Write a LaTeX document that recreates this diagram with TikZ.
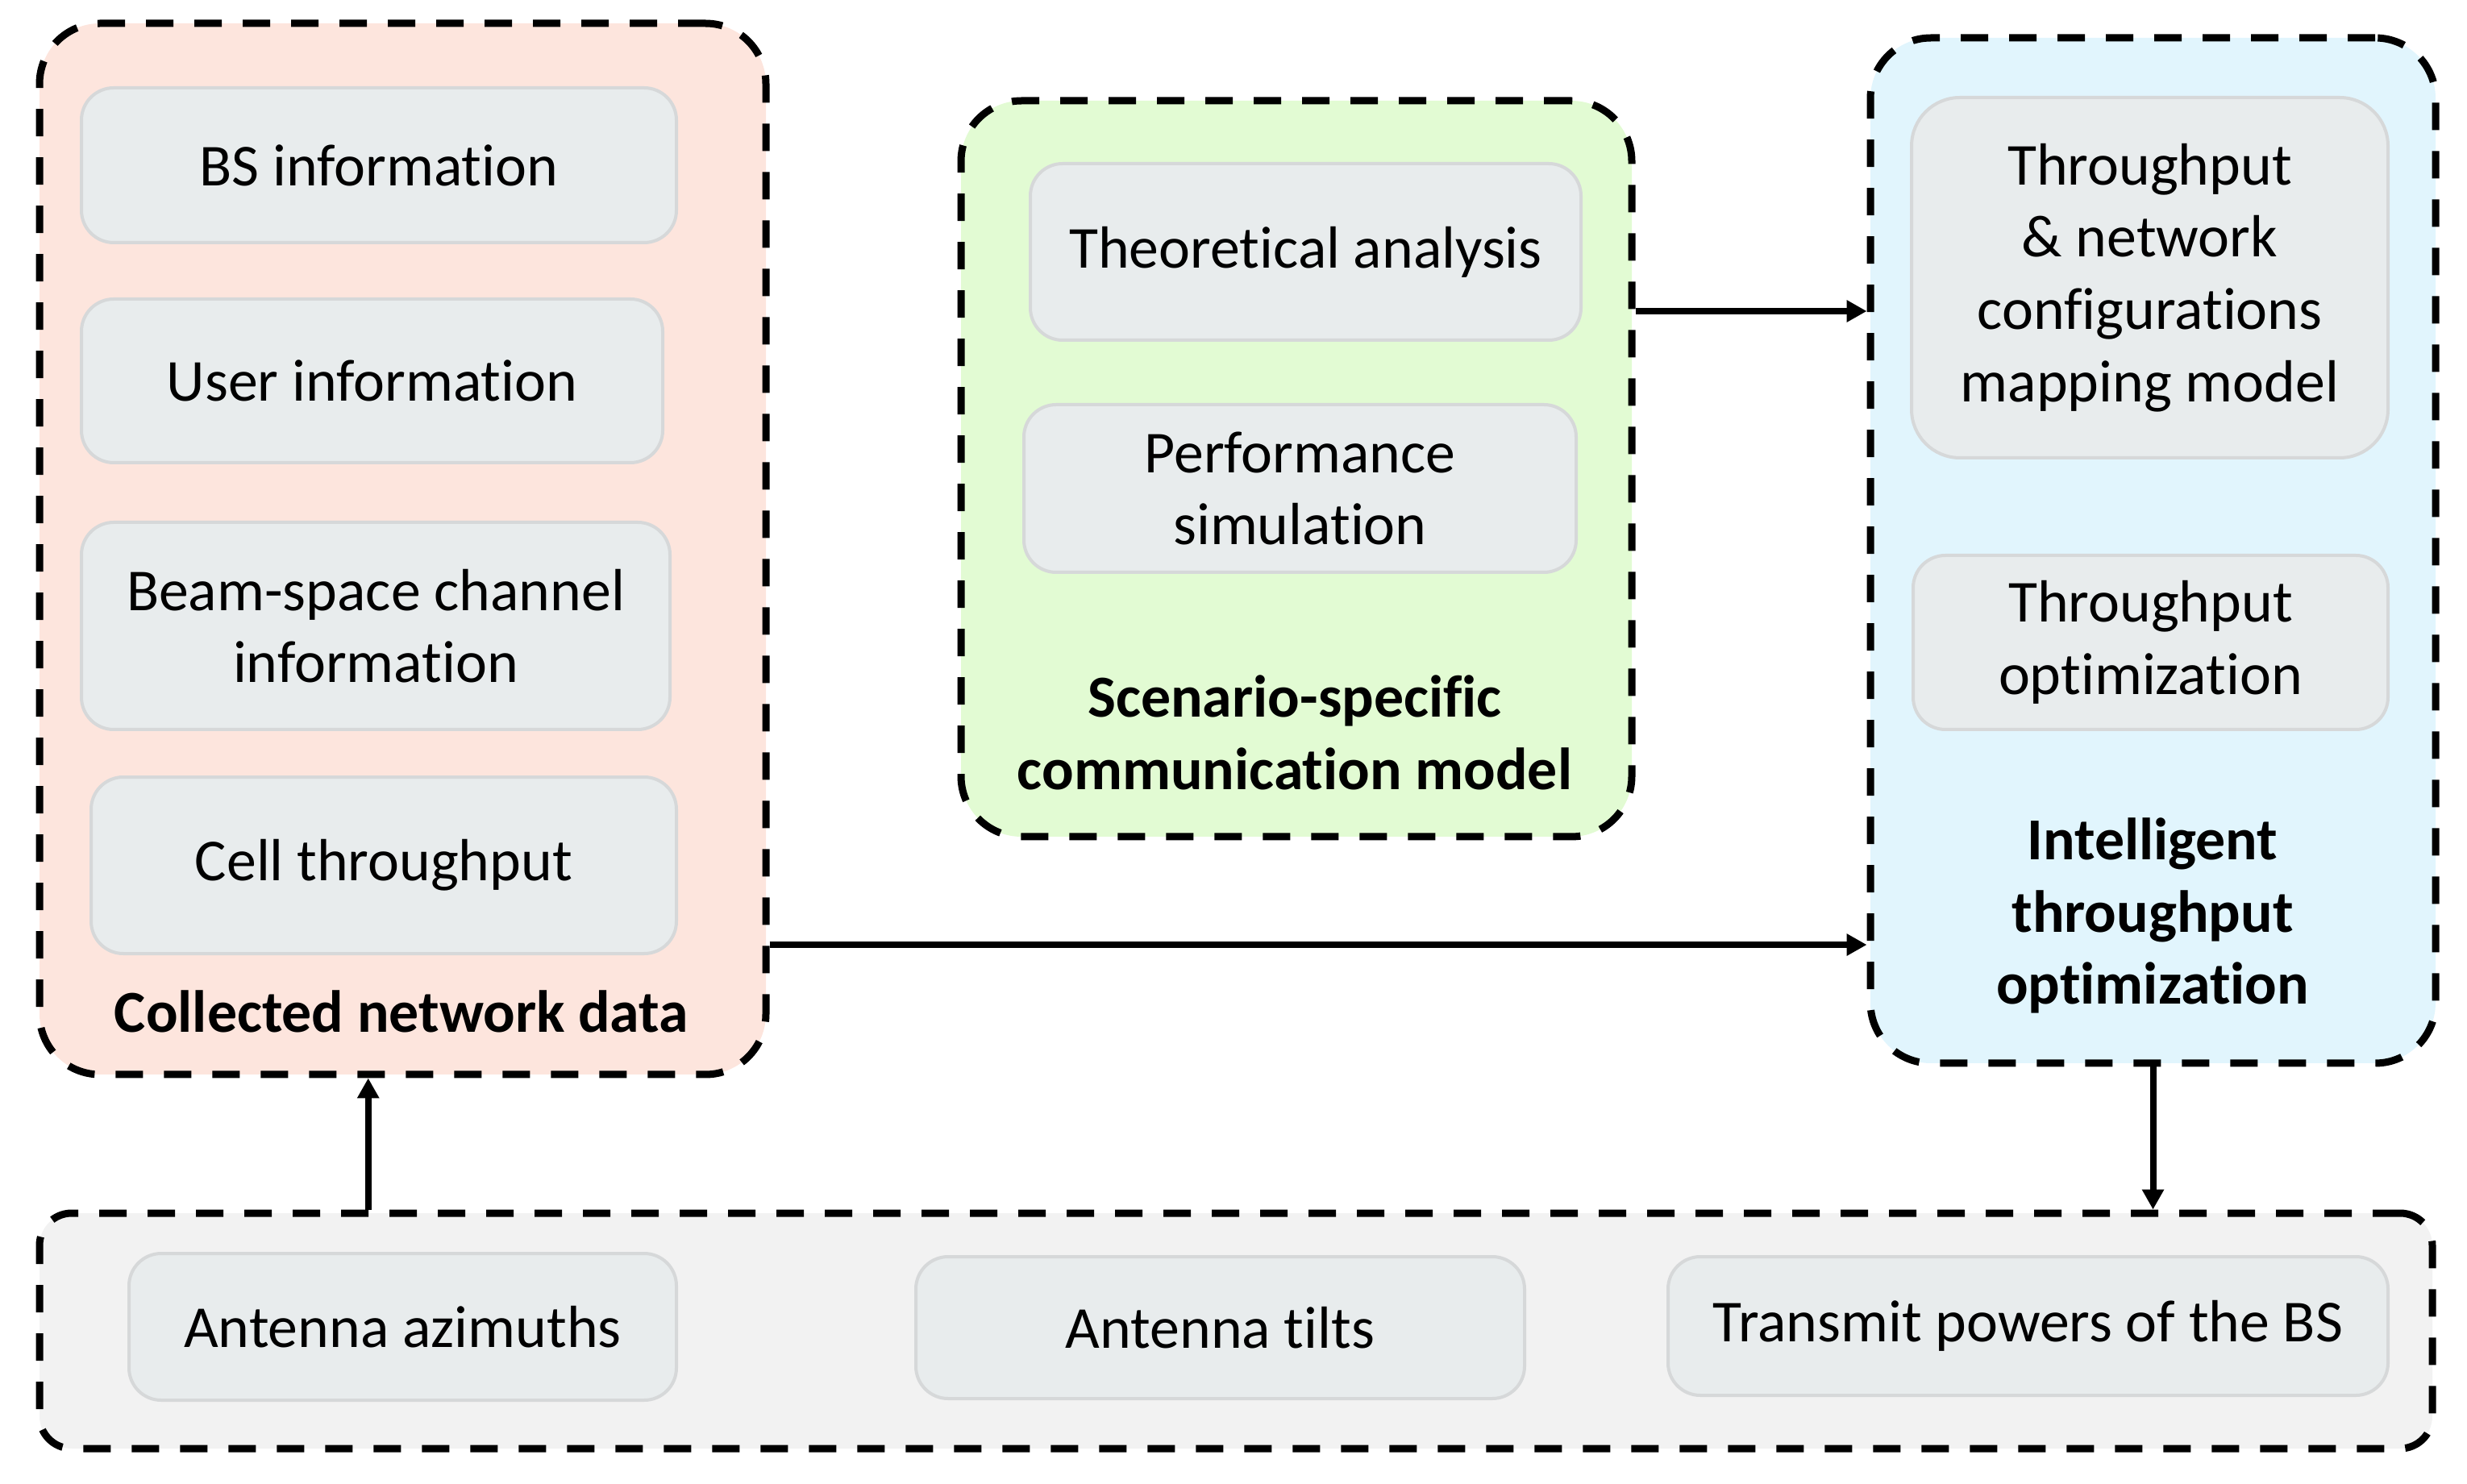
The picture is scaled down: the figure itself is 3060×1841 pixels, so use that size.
\documentclass[tikz,border=0pt]{standalone}
\usepackage{fontspec}
\setmainfont{Carlito}[Ligatures=NoCommon]
\usetikzlibrary{arrows.meta,calc}
\definecolor{redfill}{HTML}{FDE5DD}
\definecolor{greenfill}{HTML}{E2FBD3}
\definecolor{bluefill}{HTML}{E1F5FD}
\definecolor{botfill}{HTML}{F2F2F2}
\definecolor{innerfill}{HTML}{E8ECED}
\definecolor{innerdraw}{HTML}{D6D8D9}
\tikzset{
  outer/.style={draw=black, line width=0.9mm, dash pattern=on 3.4mm off 2.6mm, rounded corners=7.5mm, inner sep=0pt},
  inbox/.style={draw=innerdraw, fill=innerfill, line width=0.4mm, rounded corners=4mm, inner sep=0pt, align=center, font=\fontsize{21}{25.5}\selectfont},
  lbl/.style={align=center, inner sep=0pt, font=\fontsize{21}{25.5}\selectfont\bfseries},
  arr/.style={draw=black, line width=0.8mm, -{Triangle[length=2.5mm,width=2.6mm]}}
}
\begin{document}
\begin{tikzpicture}[x=0.1mm,y=-0.1mm]
\useasboundingbox (0,0) rectangle (3060,1841);
% outer containers
\node[outer, fill=redfill, minimum width=90.1mm, minimum height=130.4mm] (red) at (499.5,681) {};
\node[outer, fill=greenfill, minimum width=83.2mm, minimum height=91.3mm] (green) at (1608,581.5) {};
\node[outer, fill=bluefill, minimum width=70.1mm, minimum height=127.2mm] (blue) at (2670.5,683) {};
\node[outer, fill=botfill, rounded corners=4mm, minimum width=296.8mm, minimum height=29.2mm] (bottom) at (1533,1651) {};
% red contents
\node[inbox, minimum width=73.8mm, minimum height=19.2mm] (bs) at (470,205) {BS information};
\node[inbox, minimum width=72.1mm, minimum height=20.3mm] (user) at (461.5,472.5) {User information};
\node[inbox, minimum width=73.0mm, minimum height=25.7mm] (beam) at (466,776.5) {Beam-space channel\\information};
\node[inbox, minimum width=72.6mm, minimum height=21.9mm] (cell) at (476,1073.5) {Cell throughput};
\node[lbl] (redlbl) at (498,1255) {Collected network data};
% green contents
\node[inbox, minimum width=68.3mm, minimum height=21.9mm] (theo) at (1619.5,312.5) {Theoretical analysis};
\node[inbox, minimum width=68.5mm, minimum height=20.8mm] (perf) at (1612.5,606) {Performance\\simulation};
\node[lbl] (greenlbl) at (1606,909) {Scenario-specific\\communication model};
% blue contents
\node[inbox, rounded corners=6mm, minimum width=59.1mm, minimum height=44.7mm] (map) at (2666.5,344.5) {Throughput\\\& network\\configurations\\mapping model};
\node[inbox, minimum width=58.9mm, minimum height=21.6mm] (topt) at (2667.5,797) {Throughput\\optimization};
\node[lbl] (bluelbl) at (2670,1136) {Intelligent\\throughput\\optimization};
% bottom contents
\node[inbox, minimum width=67.9mm, minimum height=18.2mm] (azi) at (499.5,1646) {Antenna azimuths};
\node[inbox, minimum width=75.5mm, minimum height=17.6mm] (tilt) at (1513.5,1647) {Antenna tilts};
\node[inbox, minimum width=89.3mm, minimum height=17.2mm] (tx) at (2515.5,1645) {Transmit powers of the BS};
% connectors
\coordinate (g1) at ($(green.north east)!0.288!(green.south east)$);
\draw[arr] (g1) -- (g1 -| blue.west);
\coordinate (r1) at ($(red.north east)!0.874!(red.south east)$);
\draw[arr] (r1) -- (r1 -| blue.west);
\coordinate (r2) at ($(red.south west)!0.453!(red.south east)$);
\draw[arr] (r2 |- bottom.north) -- (r2);
\draw[arr] (blue.south) -- (blue.south |- bottom.north);
\end{tikzpicture}
\end{document}
